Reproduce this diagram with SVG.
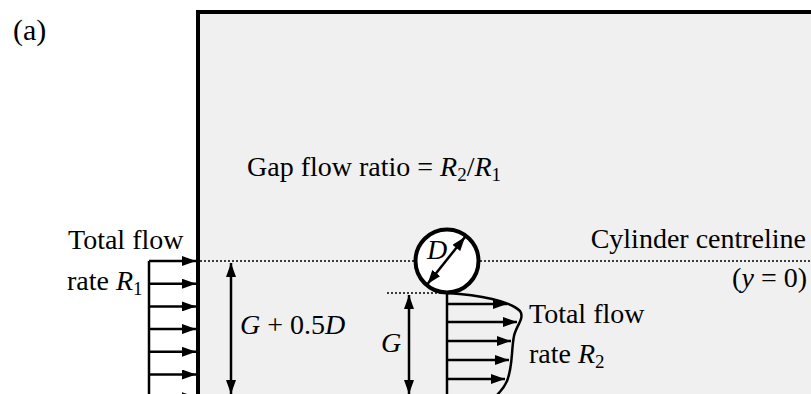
<svg xmlns="http://www.w3.org/2000/svg" width="811" height="394" viewBox="0 0 811 394">
<style>
text{font-family:"Liberation Serif","Times New Roman",serif;font-size:28px;fill:#000}
.i{font-style:italic}
.s{font-size:19px}
.ln{stroke:#000;stroke-width:2.5;fill:none}
.dot{stroke:#000;stroke-width:1.5;stroke-dasharray:2 2;fill:none}
</style>
<defs>
<marker id="ah" markerUnits="userSpaceOnUse" markerWidth="14" markerHeight="10" refX="14" refY="5" orient="auto-start-reverse">
<path d="M0,0 L14,5 L0,10 Z" fill="#000"/>
</marker>
</defs>
<text x="13" y="40" style="font-size:30px">(a)</text>
<g id="domain">
<rect x="198" y="12" width="700" height="500" fill="#f0f0f0" stroke="#000" stroke-width="4"/>
</g>
<g id="connectors">
<line class="dot" x1="200" y1="261" x2="811" y2="261"/>
<line class="dot" x1="387" y1="293" x2="447" y2="293"/>
<path class="ln" d="M149,261 V394"/>
<line class="ln" x1="149" y1="261" x2="196" y2="261" marker-end="url(#ah)"/>
<line class="ln" x1="149" y1="283.7" x2="196" y2="283.7" marker-end="url(#ah)"/>
<line class="ln" x1="149" y1="306.4" x2="196" y2="306.4" marker-end="url(#ah)"/>
<line class="ln" x1="149" y1="329.1" x2="196" y2="329.1" marker-end="url(#ah)"/>
<line class="ln" x1="149" y1="351.8" x2="196" y2="351.8" marker-end="url(#ah)"/>
<line class="ln" x1="149" y1="374.5" x2="196" y2="374.5" marker-end="url(#ah)"/>
<line class="ln" x1="149" y1="397.2" x2="196" y2="397.2" marker-end="url(#ah)"/>
<line class="ln" x1="231" y1="263" x2="231" y2="394" marker-start="url(#ah)" marker-end="url(#ah)"/>
<line class="ln" x1="409" y1="295" x2="409" y2="394" marker-start="url(#ah)" marker-end="url(#ah)"/>
<path class="ln" d="M447,293 V394"/>
<line class="ln" x1="447" y1="304" x2="507" y2="304" marker-end="url(#ah)"/>
<line class="ln" x1="447" y1="322" x2="517" y2="322" marker-end="url(#ah)"/>
<line class="ln" x1="447" y1="341" x2="511" y2="341" marker-end="url(#ah)"/>
<line class="ln" x1="447" y1="360" x2="509" y2="360" marker-end="url(#ah)"/>
<line class="ln" x1="447" y1="379" x2="505" y2="379" marker-end="url(#ah)"/>
<path class="ln" d="M447,293 C480,295 510,301 520,311 C525,318 516,326 514,336 C511,351 513,366 507,381 C504,388 500,392 497,395"/>
</g>
<g id="cylinder">
<circle cx="447" cy="261" r="31.5" fill="#fff" stroke="#000" stroke-width="4"/>
<line class="ln" x1="427.5" y1="284" x2="465" y2="237" marker-start="url(#ah)" marker-end="url(#ah)"/>
<text class="i" x="427" y="259">D</text>
</g>
<g id="labels">
<text x="247" y="176">Gap flow ratio = <tspan class="i">R</tspan><tspan class="s" dy="5">2</tspan><tspan dy="-5">/</tspan><tspan class="i">R</tspan><tspan class="s" dy="5">1</tspan></text>
<text x="68" y="249">Total flow</text>
<text x="67" y="290">rate <tspan class="i">R</tspan><tspan class="s" dy="5">1</tspan></text>
<text x="529" y="323">Total flow</text>
<text x="529" y="363">rate <tspan class="i">R</tspan><tspan class="s" dy="5">2</tspan></text>
<text x="806" y="248" text-anchor="end">Cylinder centreline</text>
<text x="807" y="287" text-anchor="end">(<tspan class="i">y</tspan> = 0)</text>
<text x="240" y="334"><tspan class="i">G</tspan> + 0.5<tspan class="i">D</tspan></text>
<text class="i" x="381" y="352">G</text>
</g>
</svg>
